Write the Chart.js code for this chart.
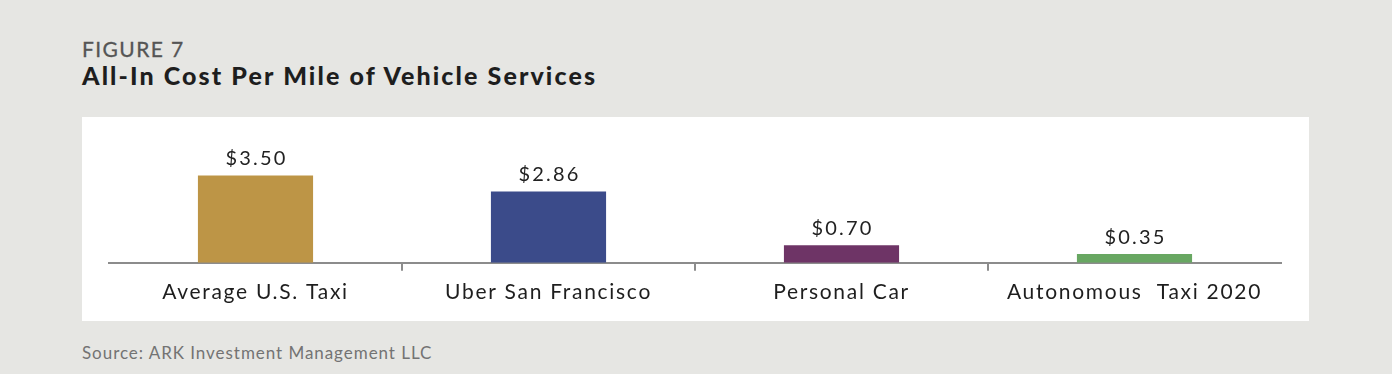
<!DOCTYPE html>
<html>
<head>
<meta charset="utf-8">
<script src="https://cdn.jsdelivr.net/npm/chart.js@4"></script>
<style>
  html, body { margin: 0; padding: 0; }
  body { width: 1392px; height: 374px; background: #e6e6e3; position: relative; overflow: hidden; font-family: Lato, "Open Sans", sans-serif; }
  .fig { position: absolute; left: 82px; top: 36px; font-size: 21px; color: #555; letter-spacing: 1.4px; -webkit-text-stroke: 0.3px #555; }
  .title { position: absolute; left: 82px; top: 60px; font-size: 25px; font-weight: 900; color: #1e1e1e; letter-spacing: 2.1px; }
  .panel { position: absolute; left: 82px; top: 117px; width: 1227px; height: 204px; background: #fff; }
  .source { position: absolute; left: 82px; top: 342px; font-size: 17px; color: #737373; letter-spacing: 0.95px; }
</style>
</head>
<body>
<div class="fig">FIGURE 7</div>
<div class="title">All-In Cost Per Mile of Vehicle Services</div>
<div class="panel"><canvas id="costChart" width="1227" height="204"></canvas></div>
<div class="source">Source: ARK Investment Management LLC</div>

<script>
// data
const categories = ["Average U.S. Taxi", "Uber San Francisco", "Personal Car", "Autonomous  Taxi 2020"];
const costPerMile = [3.50, 2.86, 0.70, 0.35];
const barColors = ["#bd9546", "#3b4b8a", "#6e3466", "#68a762"];

// wider letters, closer to the original typeface
const spacing = {
  id: "spacing",
  beforeDraw(chart) {
    chart.ctx.letterSpacing = "1.7px";
  }
};

// dollar labels above each bar
const valueLabels = {
  id: "valueLabels",
  afterDatasetsDraw(chart) {
    const ctx = chart.ctx;
    const meta = chart.getDatasetMeta(0);
    ctx.save();
    ctx.font = "20px Lato";
    ctx.letterSpacing = "2.2px";
    ctx.fillStyle = "#222";
    ctx.textAlign = "center";
    ctx.textBaseline = "alphabetic";
    meta.data.forEach((bar, i) => {
      ctx.fillText("$" + costPerMile[i].toFixed(2), bar.x + 1, bar.y - 10);
    });
    ctx.restore();
  }
};

const ctx = document.getElementById("costChart").getContext("2d");
new Chart(ctx, {
  type: "bar",
  data: {
    labels: categories,
    datasets: [
      {
        data: costPerMile,
        backgroundColor: barColors,
        borderWidth: 0,
        categoryPercentage: 1,
        barPercentage: 0.393,
      },
    ],
  },
  options: {
    responsive: false,
    animation: false,
    events: [],
    layout: {
      padding: { left: 27, right: 28, top: 46, bottom: 7 },
    },
    plugins: {
      legend: { display: false },
      tooltip: { enabled: false },
    },
    scales: {
      x: {
        grid: {
          offset: true,
          drawOnChartArea: false,
          tickLength: 8,
          lineWidth: 2,
          color: (c) => (c.index === 0 || c.index === undefined ? "rgba(0,0,0,0)" : "#8c8c8c"),
        },
        border: { display: true, color: "#8c8c8c", width: 2 },
        ticks: {
          color: "#1e1e1e",
          padding: 9,
          font: { family: "Lato", size: 21 },
          maxRotation: 0,
        },
      },
      y: {
        display: false,
        min: 0,
        max: 4,
      },
    },
  },
  plugins: [spacing, valueLabels],
});
</script>
</body>
</html>
